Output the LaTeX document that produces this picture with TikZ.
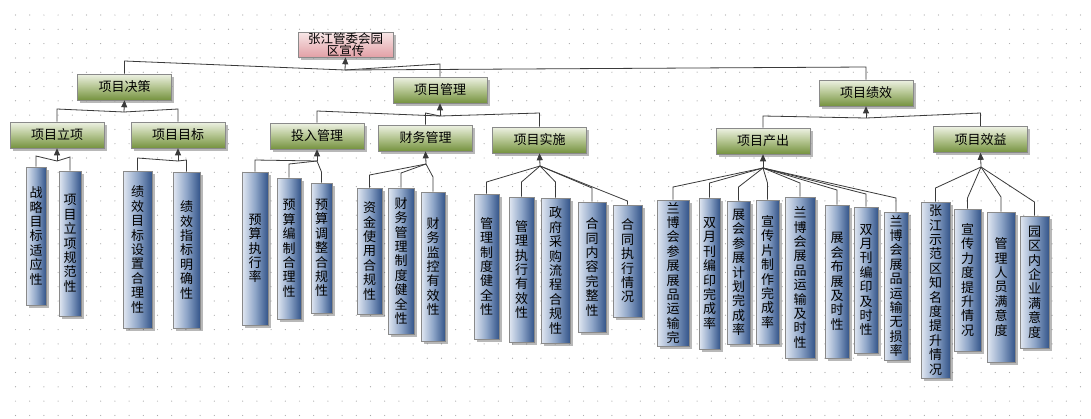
\documentclass[tikz,border=0pt]{standalone}
\usepackage{fontspec}
\setmainfont{Noto Sans CJK SC}
\usetikzlibrary{shadows,arrows.meta}
\definecolor{gTop}{HTML}{EEF2E4}
\definecolor{gMid}{HTML}{B3C48F}
\definecolor{gBot}{HTML}{75923F}
\definecolor{bL}{HTML}{E2E8F2}
\definecolor{bM}{HTML}{8FA6C8}
\definecolor{bR}{HTML}{34558A}
\definecolor{pTop}{HTML}{F8E8E8}
\definecolor{pBot}{HTML}{E2A0A6}
\definecolor{edge}{HTML}{8A8A8A}
\definecolor{lineC}{HTML}{3A3A3A}
\definecolor{dotC}{HTML}{A8A8A8}
\tikzset{
  shad/.style={drop shadow={shadow xshift=2.5pt,shadow yshift=-2.5pt,fill=black,opacity=0.28}},
  lvl/.style={draw=edge, line width=0.6pt, shad, top color=gTop, bottom color=gBot, middle color=gMid,
    minimum width=94pt, minimum height=26pt, inner sep=0pt, font=\fontsize{13}{14}\selectfont},
  rootbox/.style={draw=edge, line width=0.6pt, shad, top color=pTop, bottom color=pBot,
    minimum width=95pt, minimum height=25pt, inner sep=0pt, align=center, font=\fontsize{12.5}{12}\selectfont},
  leaf/.style={draw=edge, line width=0.6pt, shad, left color=bL, right color=bR, middle color=bM,
    inner sep=0pt, align=center, font=\fontsize{13}{14.4}\selectfont},
  conn/.style={draw=lineC, line width=0.8pt},
  arr/.style={draw=lineC, line width=0.8pt, -{Triangle[length=7pt,width=6pt]}}
}
\newcommand\leafbox[6]{%
  \pgfmathsetmacro\lw{#3-#2}\pgfmathsetmacro\lh{#5-#4}%
  \pgfmathsetmacro\lcx{(#2+#3)/2}\pgfmathsetmacro\lcy{(#4+#5)/2}%
  \node[leaf, minimum width=\lw pt, minimum height=\lh pt] (#1) at (\lcx,\lcy) {#6};}
\newcommand\conn[3]{\draw[conn] (#1.north) -- (#1.north |- 0,#2) -- (#3);}
\begin{document}
\begin{tikzpicture}[x=1pt,y=-1pt]
\useasboundingbox[fill=white] (0,0) rectangle (1091,418);
\foreach \i in {0,...,75} \foreach \j in {0,...,28}
  \fill[dotC] (15.5+\i*14.2, 15+\j*14.3) circle (0.6pt);

% root
\node[rootbox] (root) at (345.5,44.5) {张江管委会园\\区宣传};
% level 1
\node[lvl] (d1) at (124.5,87) {项目决策};
\node[lvl] (d2) at (440,90) {项目管理};
\node[lvl] (d3) at (866,93) {项目绩效};
% level 2
\node[lvl] (e1) at (57,135) {项目立项};
\node[lvl] (e2) at (178,135) {项目目标};
\node[lvl] (e3) at (317,136) {投入管理};
\node[lvl] (e4) at (425.5,138) {财务管理};
\node[lvl] (e5) at (539.5,140) {项目实施};
\node[lvl] (e6) at (763,141) {项目产出};
\node[lvl] (e7) at (980.5,139.5) {项目效益};
% leaves
\leafbox{f1}{26}{46}{167}{305}{战\\略\\目\\标\\适\\应\\性}
\leafbox{f2}{59}{81}{171}{316}{项\\目\\立\\项\\规\\范\\性}
\leafbox{f3}{123}{152}{171}{328}{绩\\效\\目\\标\\设\\置\\合\\理\\性}
\leafbox{f4}{173}{200}{172}{328}{绩\\效\\指\\标\\明\\确\\性}
\leafbox{f5}{242}{268}{172}{325}{预\\算\\执\\行\\率}
\leafbox{f6}{277}{301}{178}{319}{预\\算\\编\\制\\合\\理\\性}
\leafbox{f7}{311}{332}{183}{313}{预\\算\\调\\整\\合\\规\\性}
\leafbox{f8}{357}{382}{188}{314}{资\\金\\使\\用\\合\\规\\性}
\leafbox{f9}{388}{414}{188}{334}{财\\务\\管\\理\\制\\度\\健\\全\\性}
\leafbox{f10}{421}{445}{192}{341}{财\\务\\监\\控\\有\\效\\性}
\leafbox{f11}{474}{499}{194}{339}{管\\理\\制\\度\\健\\全\\性}
\leafbox{f12}{509}{534}{197}{342}{管\\理\\执\\行\\有\\效\\性}
\leafbox{f13}{541}{570}{198}{343}{政\\府\\采\\购\\流\\程\\合\\规\\性}
\leafbox{f14}{578}{606}{202}{332}{合\\同\\内\\容\\完\\整\\性}
\leafbox{f15}{613}{642}{205}{317}{合\\同\\执\\行\\情\\况}
\leafbox{f16}{657}{689}{200}{346}{兰\\博\\会\\参\\展\\展\\品\\运\\输\\完}
\leafbox{f17}{699}{720}{198}{349}{双\\月\\刊\\编\\印\\完\\成\\率}
\leafbox{f18}{727}{750}{201}{344}{展\\会\\参\\展\\计\\划\\完\\成\\率}
\leafbox{f19}{756}{779}{200}{344}{宣\\传\\片\\制\\作\\完\\成\\率}
\leafbox{f20}{785}{815}{197}{358}{兰\\博\\会\\展\\品\\运\\输\\及\\时\\性}
\leafbox{f21}{825}{849}{205}{358}{展\\会\\布\\展\\及\\时\\性}
\leafbox{f22}{854}{878}{207}{353}{双\\月\\刊\\编\\印\\及\\时\\性}
\leafbox{f23}{884}{908}{212}{360}{兰\\博\\会\\展\\品\\运\\输\\无\\损\\率}
\leafbox{f24}{921}{950}{202}{378}{张\\江\\示\\范\\区\\知\\名\\度\\提\\升\\情\\况}
\leafbox{f25}{954}{981}{209}{351}{宣\\传\\力\\度\\提\\升\\情\\况}
\leafbox{f26}{987}{1015}{212}{362}{管\\理\\人\\员\\满\\意\\度}
\leafbox{f27}{1020}{1049}{216}{348}{园\\区\\内\\企\\业\\满\\意\\度}

% junctions
\coordinate (j0) at (345,70);
\coordinate (jd1) at (124,112);
\coordinate (jd2) at (440,116);
\coordinate (jd3) at (866,118);
\coordinate (je1) at (57,161);
\coordinate (je2) at (178,161);
\coordinate (je3) at (317,161);
\coordinate (je4) at (426,164);
\coordinate (je5) at (540,166);
\coordinate (je6) at (763,168);
\coordinate (je7) at (981,167);

% connectors
\conn{d1}{61}{j0}\conn{d2}{64}{j0}\conn{d3}{67}{j0}
\draw[arr] (j0) -- (root.south);
\conn{e1}{109}{jd1}\conn{e2}{109}{jd1}
\draw[arr] (jd1) -- (d1.south);
\conn{e3}{111}{jd2}\conn{e4}{113}{jd2}\conn{e5}{113}{jd2}
\draw[arr] (jd2) -- (d2.south);
\conn{e6}{116}{jd3}\conn{e7}{113}{jd3}
\draw[arr] (jd3) -- (d3.south);
\conn{f1}{156}{je1}\conn{f2}{157}{je1}
\draw[arr] (je1) -- (e1.south);
\conn{f3}{158}{je2}\conn{f4}{160}{je2}
\draw[arr] (je2) -- (e2.south);
\conn{f5}{160}{je3}\conn{f6}{164}{je3}\conn{f7}{172}{je3}
\draw[arr] (je3) -- (e3.south);
\conn{f8}{175}{je4}\conn{f9}{173}{je4}\conn{f10}{177}{je4}
\draw[arr] (je4) -- (e4.south);
\conn{f11}{182}{je5}\conn{f12}{182}{je5}\conn{f13}{182}{je5}\conn{f14}{188}{je5}\conn{f15}{201}{je5}
\draw[arr] (je5) -- (e5.south);
\conn{f16}{187}{je6}\conn{f17}{183}{je6}\conn{f18}{187}{je6}\conn{f19}{183}{je6}
\conn{f20}{183}{je6}\conn{f21}{190}{je6}\conn{f22}{194}{je6}\conn{f23}{198}{je6}
\draw[arr] (je6) -- (e6.south);
\conn{f24}{188}{je7}\conn{f25}{198}{je7}\conn{f26}{197}{je7}\conn{f27}{202}{je7}
\draw[arr] (je7) -- (e7.south);
\end{tikzpicture}
\end{document}
